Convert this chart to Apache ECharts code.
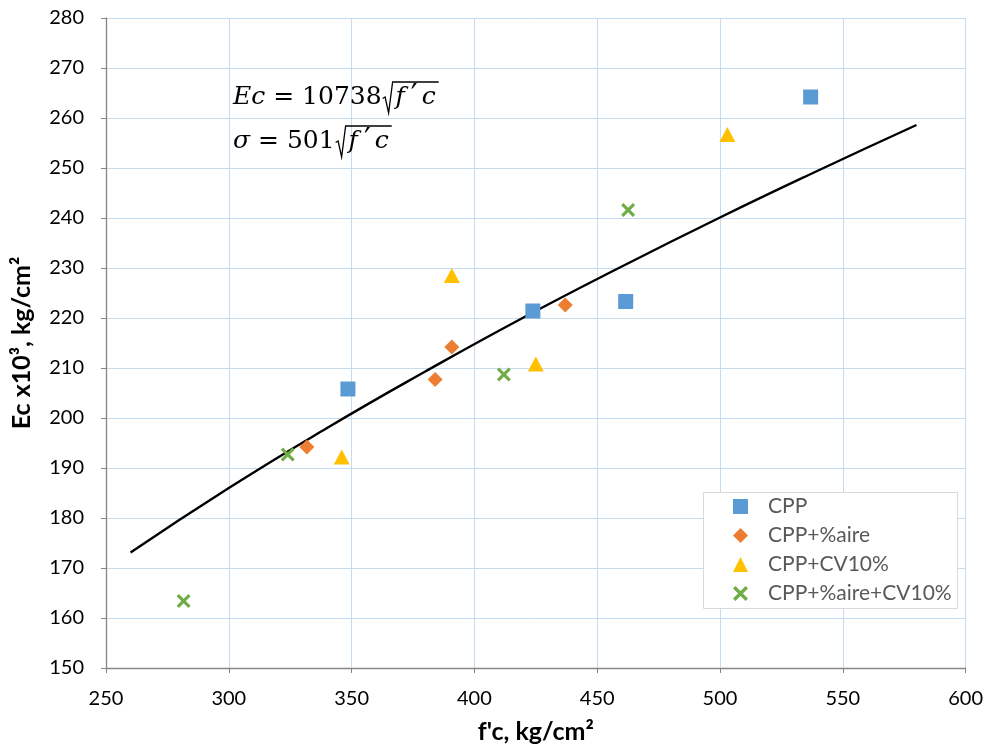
<!DOCTYPE html>
<html>
<head>
<meta charset="utf-8">
<script src="https://cdn.jsdelivr.net/npm/echarts@6/dist/echarts.min.js"></script>
<style>html,body{margin:0;padding:0;background:#fff}#c{width:986px;height:751px}</style>
</head>
<body>
<div id="c"></div>
<script>
// ---- data ----
const seriesNames = ['CPP', 'CPP+%aire', 'CPP+CV10%', 'CPP+%aire+CV10%'];
const cppX = [348.5, 423.8, 461.6, 536.9];
const cppY = [205.8, 221.4, 223.3, 264.2];
const aireX = [331.8, 384.0, 390.8, 437.0];
const aireY = [194.2, 207.7, 214.2, 222.6];
const cvX = [346.0, 390.8, 425.0, 503.0];
const cvY = [192.2, 228.5, 210.8, 256.7];
const aireCvX = [281.6, 324.0, 412.0, 462.6];
const aireCvY = [163.4, 192.7, 208.7, 241.6];
const fitX = [260, 300, 340, 380, 420, 460, 500, 540, 580];
const fitY = [173.1, 186.0, 198.0, 209.3, 220.1, 230.3, 240.1, 249.5, 258.6];
const xTicks = [250, 300, 350, 400, 450, 500, 550, 600];
const yTicks = [150, 160, 170, 180, 190, 200, 210, 220, 230, 240, 250, 260, 270, 280];

const pairs = (xs, ys) => xs.map((x, i) => [x, ys[i]]);
const colors = ['#5B9BD5', '#ED7D31', '#FFC000', '#70AD47'];
const crossPath = 'path://M1.6,0 L5,3.4 L8.4,0 L10,1.6 L6.6,5 L10,8.4 L8.4,10 L5,6.6 L1.6,10 L0,8.4 L3.4,5 L0,1.6 Z';
const symbols = ['rect', 'diamond', 'triangle', crossPath];
const symSizes = [15, 15, [16, 15], 14];
const uiFont = 'Lato';

const chart = echarts.init(document.getElementById('c'), null, {renderer: 'canvas'});

// equation layout via text measuring
const ctx = document.createElement('canvas').getContext('2d');
const eqSize = 25;
const eqFontN = eqSize + 'px "DejaVu Serif"';
const eqFontI = 'italic ' + eqSize + 'px "DejaVu Serif"';
const primeFont = '30px "DejaVu Serif"';
function w(font, s) { ctx.font = font; return ctx.measureText(s).width; }
const graphics = [];
function txt(x, y, s, font) {
  graphics.push({type: 'text', left: x, top: y, z: 10, style: {text: s, font: font, fill: '#000'}});
}
function equation(x0, base, lhsItalic, rest) {
  let x = x0;
  const ty = base - eqSize * 0.86;
  txt(x, ty, lhsItalic, eqFontI);
  x += w(eqFontI, lhsItalic);
  txt(x, ty, rest, eqFontN);
  x += w(eqFontN, rest) + 1;
  const top = base - eqSize * 0.96;
  const bot = base + eqSize * 0.28;
  const rx = x;
  let fx = x + 13;
  txt(fx, ty, 'f', eqFontI);
  fx += w(eqFontI, 'f') + 6;
  txt(fx, ty - 2, '\u2032', primeFont);
  fx += w(primeFont, '\u2032') + 4;
  txt(fx, ty, 'c', eqFontI);
  fx += w(eqFontI, 'c') + 3;
  graphics.push({type: 'polyline', z: 10, shape: {points: [
    [rx, base - eqSize * 0.3], [rx + 2.5, base - eqSize * 0.36], [rx + 6, bot], [rx + 10, top], [fx, top]]},
    style: {stroke: '#000', lineWidth: 1.3, fill: null}});
}
equation(233, 106, 'Ec', ' = 10738');
equation(233, 150, '\u03c3', ' = 501');

// legend frame
graphics.push({type: 'rect', left: 703, top: 492, z: 5,
  shape: {width: 254, height: 116}, style: {fill: '#fff', stroke: '#D9D9D9', lineWidth: 1}});

const scatterData = [pairs(cppX, cppY), pairs(aireX, aireY), pairs(cvX, cvY), pairs(aireCvX, aireCvY)];

chart.setOption({
  animation: false,
  backgroundColor: '#fff',
  grid: {left: 106, right: 20, top: 18, bottom: 83, containLabel: false},
  xAxis: {
    type: 'value', min: 250, max: 600, interval: 50,
    name: "f'c, kg/cm\u00b2", nameLocation: 'middle', nameGap: 51,
    nameTextStyle: {fontFamily: uiFont, fontSize: 25, fontWeight: 'bold', color: '#000'},
    axisLine: {show: true, onZero: false, lineStyle: {color: '#868686', width: 1.3}},
    axisTick: {show: true, length: 5, lineStyle: {color: '#868686'}},
    axisLabel: {fontFamily: uiFont, fontSize: 20, color: '#000', margin: 21,
      formatter: v => xTicks.includes(v) ? String(v) : ''},
    splitLine: {show: true, lineStyle: {color: '#C5DBF0', width: 1}}
  },
  yAxis: {
    type: 'value', min: 150, max: 280, interval: 10,
    name: 'Ec x10\u00b3, kg/cm\u00b2', nameLocation: 'middle', nameGap: 72, nameRotate: 90,
    nameTextStyle: {fontFamily: uiFont, fontSize: 25, fontWeight: 'bold', color: '#000'},
    axisLine: {show: true, onZero: false, lineStyle: {color: '#868686', width: 1.3}},
    axisTick: {show: true, length: 5, lineStyle: {color: '#868686'}},
    axisLabel: {fontFamily: uiFont, fontSize: 20, color: '#000', margin: 22,
      formatter: v => yTicks.includes(v) ? String(v) : ''},
    splitLine: {show: true, lineStyle: {color: '#C5DBF0', width: 1}}
  },
  legend: {
    left: 733, top: 496, orient: 'vertical', itemGap: 8, padding: 0,
    itemWidth: 15, itemHeight: 15,
    z: 6,
    textStyle: {fontFamily: uiFont, fontSize: 21, color: '#595959', padding: [0, 0, 0, 15]},
    data: seriesNames.map((n, i) => ({name: n, icon: symbols[i]}))
  },
  graphic: graphics,
  series: [
    {type: 'line', name: 'fit', data: pairs(fitX, fitY), smooth: true, showSymbol: false,
      lineStyle: {color: '#000', width: 2.4}, z: 2, silent: true},
    ...seriesNames.map((n, i) => ({
      type: 'scatter', name: n, data: scatterData[i], symbol: symbols[i], symbolSize: symSizes[i],
      itemStyle: {color: colors[i], opacity: 1}, z: 3
    }))
  ]
});
</script>
</body>
</html>
